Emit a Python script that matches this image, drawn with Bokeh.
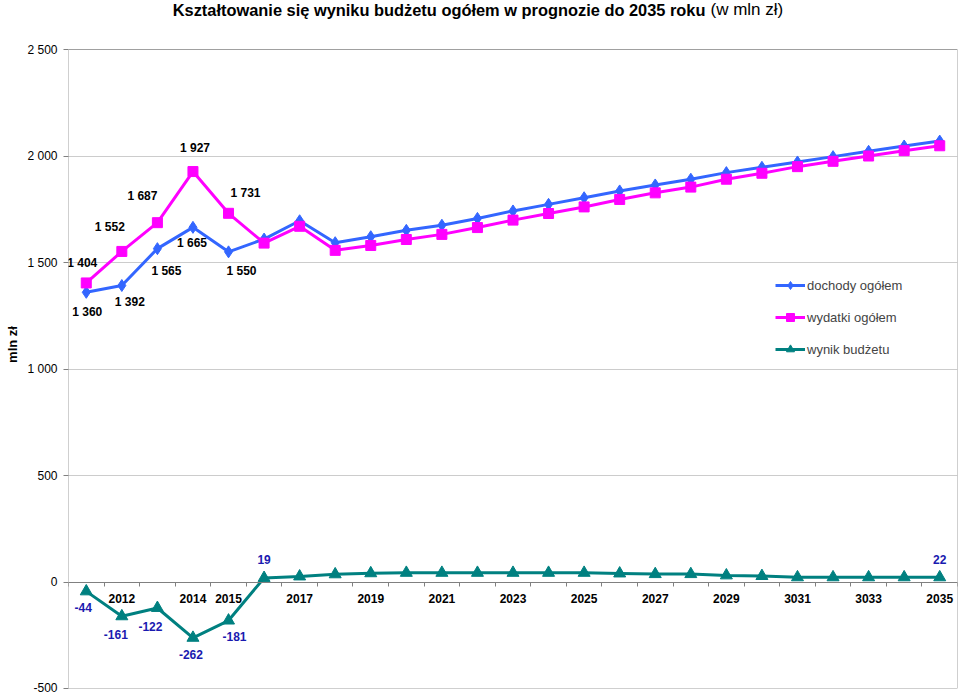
from bokeh.plotting import figure
from bokeh.models import (ColumnDataSource, FixedTicker, Label, Legend, LegendItem, Range1d)
from bokeh.embed import file_html
from bokeh.resources import INLINE
from bokeh.core.properties import value

years = [str(y) for y in range(2011, 2036)]
tick_labels = ["", "2012", "", "2014", "2015", "", "2017", "", "2019", "", "2021", "",
               "2023", "", "2025", "", "2027", "", "2029", "", "3031", "", "3033", "", "2035"]
dochody = [1360, 1392, 1565, 1665, 1550, 1610, 1696, 1593, 1621, 1651, 1675, 1707, 1742,
           1773, 1804, 1836, 1864, 1891, 1922, 1947, 1972, 1997, 2022, 2047, 2070]
wydatki = [1404, 1552, 1687, 1927, 1731, 1591, 1670, 1557, 1580, 1608, 1632, 1664, 1699,
           1730, 1761, 1796, 1827, 1854, 1891, 1919, 1950, 1975, 2000, 2025, 2048]
wynik = [-44, -161, -122, -262, -181, 19, 26, 36, 41, 43, 43, 43, 43,
         43, 43, 40, 37, 37, 31, 28, 22, 22, 22, 22, 22]
y_ticks = [-500, 0, 500, 1000, 1500, 2000, 2500]
y_tick_labels = ["-500", "0", "500", "1 000", "1 500", "2 000", "2 500"]
Y_MIN, Y_MAX = -500, 2500

# which points carry value labels, and label offsets (px)
doch_lbl_idx = [0, 1, 2, 3, 4]
doch_off = [(1, 20), (8, 16), (9, 22), (-1, 16), (13, 19)]
wyd_lbl_idx = [0, 1, 2, 3, 4]
wyd_off = [(-4, -20), (-12, -24), (-15, -27), (2, -24), (17, -20)]
wyn_lbl_idx = [0, 1, 2, 3, 4, 5, 24]
wyn_off = [(-3, 16), (-6, 18), (-7, 19), (-2, 17), (6, 16), (0, -18), (0, -18)]

BLUE = "#3366FF"
PINK = "#FF00FF"
TEAL = "#008080"
FONT = "Liberation Sans"

W, H = 958, 694
TOP_PAD, BOT, LEFT, RIGHT = 49, 6, 68, 1
plot_h = H - TOP_PAD - BOT          # height of the value area in px
frame_h = H - BOT                   # frame extends to the top of the canvas (title area)
y_top = Y_MAX + (Y_MAX - Y_MIN) * TOP_PAD / plot_h

x = list(range(len(years)))
X_MIN, X_MAX = -0.5, len(years) - 0.5

p = figure(width=W, height=H, x_range=Range1d(X_MIN, X_MAX),
           y_range=Range1d(Y_MIN, y_top), output_backend="svg", toolbar_location=None,
           min_border_left=LEFT, min_border_right=RIGHT, min_border_top=0, min_border_bottom=BOT)
p.background_fill_color = "white"
p.border_fill_color = "white"
p.outline_line_color = None

# plot-area border
p.quad(left=[X_MIN], right=[X_MAX], bottom=[Y_MIN], top=[Y_MAX],
       fill_color=None, line_color="#A0A0A0", line_width=1)

src = ColumnDataSource(dict(x=x, d=dochody, w=wydatki, r=wynik))

l1 = p.line("x", "d", source=src, line_color=BLUE, line_width=3)
s1 = p.scatter("x", "d", source=src, marker="diamond", size=12, fill_color=BLUE, line_color=BLUE)
l2 = p.line("x", "w", source=src, line_color=PINK, line_width=3)
s2 = p.scatter("x", "w", source=src, marker="square", size=10, fill_color=PINK, line_color=PINK)
l3 = p.line("x", "r", source=src, line_color=TEAL, line_width=3)
s3 = p.scatter("x", "r", source=src, marker="triangle", size=12, fill_color=TEAL, line_color=TEAL)

def fmt(v):
    return f"{v:,}".replace(",", " ")

def add_labels(idx, vals, offs, color):
    s = ColumnDataSource(dict(
        x=[x[i] for i in idx], y=[vals[i] for i in idx], t=[fmt(vals[i]) for i in idx],
        xo=[o[0] for o in offs], yo=[o[1] for o in offs]))
    p.text("x", "y", text="t", source=s, x_offset="xo", y_offset="yo",
           text_align="center", text_baseline="middle", text_font=value(FONT),
           text_font_size="12px", text_font_style="bold", text_color=color)

add_labels(doch_lbl_idx, dochody, doch_off, "black")
add_labels(wyd_lbl_idx, wydatki, wyd_off, "black")
add_labels(wyn_lbl_idx, wynik, wyn_off, "#1A1AB0")

# y axis
p.yaxis.ticker = FixedTicker(ticks=y_ticks, minor_ticks=[])
p.yaxis.major_label_overrides = {t: l for t, l in zip(y_ticks, y_tick_labels)}
p.yaxis.major_label_text_font = FONT
p.yaxis.major_label_text_font_size = "12px"
p.yaxis.major_label_text_color = "black"
p.yaxis.major_tick_out = 5
p.yaxis.major_tick_in = 0
p.yaxis.axis_line_color = None
p.yaxis.major_tick_line_color = "#808080"
p.yaxis.major_label_standoff = 6
p.yaxis.axis_label = "mln zł"
p.yaxis.axis_label_text_font = FONT
p.yaxis.axis_label_text_font_size = "13px"
p.yaxis.axis_label_text_font_style = "bold"
p.yaxis.axis_label_text_color = "black"
p.yaxis.axis_label_standoff = 4

# x axis along zero line
p.xaxis.fixed_location = 0
p.xaxis.ticker = FixedTicker(ticks=x, minor_ticks=[i - 0.5 for i in range(len(years) + 1)])
p.xaxis.major_label_overrides = {i: l for i, l in zip(x, tick_labels)}
p.xaxis.major_label_text_font = FONT
p.xaxis.major_label_text_font_size = "12px"
p.xaxis.major_label_text_font_style = "bold"
p.xaxis.major_label_text_color = "black"
p.xaxis.major_tick_out = 0
p.xaxis.major_tick_in = 0
p.xaxis.minor_tick_out = 4
p.xaxis.minor_tick_in = 0
p.xaxis.minor_tick_line_color = "#808080"
p.xaxis.axis_line_color = "#808080"
p.xaxis.major_label_standoff = 8

p.xgrid.visible = False
p.ygrid.ticker = FixedTicker(ticks=y_ticks[1:-1])
p.ygrid.grid_line_color = "#CCCCCC"

legend = Legend(items=[
    LegendItem(label="dochody ogółem", renderers=[l1, s1]),
    LegendItem(label="wydatki ogółem", renderers=[l2, s2]),
    LegendItem(label="wynik budżetu", renderers=[l3, s3]),
], location=(707, 329))
legend.padding = 0
legend.margin = 0
legend.spacing = 12
legend.label_height = 20
legend.glyph_height = 20
legend.glyph_width = 30
legend.label_standoff = 2
legend.label_text_font = FONT
legend.label_text_font_size = "13px"
legend.border_line_color = None
legend.background_fill_color = "white"
legend.background_fill_alpha = 1.0
p.add_layout(legend)

t1 = Label(x=637, y=frame_h - 9, x_units="screen", y_units="screen",
           text="Kształtowanie się wyniku budżetu ogółem w prognozie do 2035 roku",
           text_font=FONT, text_font_size="16.4px", text_font_style="bold",
           text_align="right", text_baseline="middle", text_color="black")
t2 = Label(x=642, y=frame_h - 9, x_units="screen", y_units="screen",
           text="(w mln zł)", text_font=FONT, text_font_size="17px",
           text_align="left", text_baseline="middle", text_color="black")
p.add_layout(t1)
p.add_layout(t2)

open("out.html", "w").write(file_html(p, INLINE))
